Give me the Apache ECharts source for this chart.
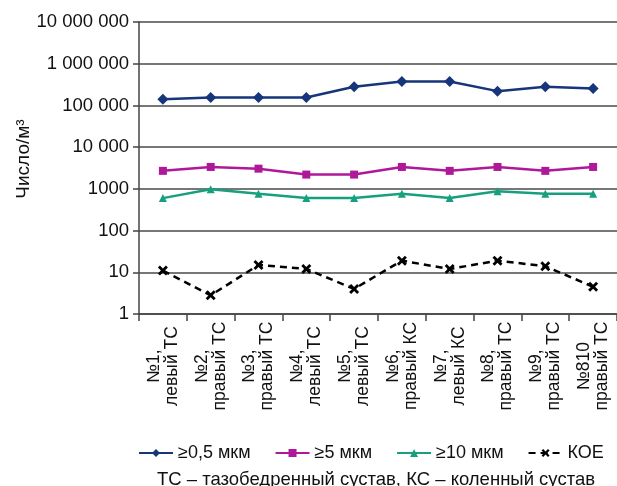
<!DOCTYPE html>
<html>
<head>
<meta charset="utf-8">
<script src="https://cdn.jsdelivr.net/npm/echarts@6/dist/echarts.min.js"></script>
<style>
  html, body { margin: 0; padding: 0; background: #fff; }
  #chart { width: 617px; height: 486px; }
</style>
</head>
<body>
<div id="chart"></div>
<script>
// Particle counts per m³ measured during operations (log scale)
const categories = [
  '№1,\nлевый ТС', '№2,\nправый ТС', '№3,\nправый ТС', '№4,\nлевый ТС', '№5,\nлевый ТС',
  '№6,\nправый КС', '№7,\nлевый КС', '№8,\nправый ТС', '№9,\nправый ТС', '№810\nправый ТС'
];
const seriesNames = ['≥0,5 мкм', '≥5 мкм', '≥10 мкм', 'КОЕ'];
const particles05 = [140000, 155000, 155000, 155000, 280000, 375000, 375000, 220000, 280000, 255000];
const particles5 = [2700, 3350, 3050, 2200, 2200, 3350, 2700, 3350, 2700, 3350];
const particles10 = [600, 980, 760, 600, 600, 760, 600, 880, 760, 760];
const cfu = [11, 2.8, 15, 12, 4, 19, 12, 19, 14, 4.5];
const yTickLabels = ['1', '10', '100', '1000', '10 000', '100 000', '1 000 000', '10 000 000'];
const yTitle = 'Число/м³';
const footnote = 'ТС – тазобедренный сустав, КС – коленный сустав';

const FONT = 'Liberation Sans, Arial, Helvetica, sans-serif';
const crossPath = 'path://M0,2L2,0L5,3L8,0L10,2L7,5L10,8L8,10L5,7L2,10L0,8L3,5Z';

const chart = echarts.init(document.getElementById('chart'), null, { renderer: 'canvas' });

function lineSeries(name, data, color, symbol, size, dashed) {
  return {
    name: name,
    type: 'line',
    data: data,
    symbol: symbol,
    symbolSize: size,
    showSymbol: true,
    animation: false,
    lineStyle: { color: color, width: 2.5, type: dashed ? [7, 5] : 'solid' },
    itemStyle: { color: color, borderWidth: 0 },
    emphasis: { disabled: true }
  };
}

chart.setOption({
  backgroundColor: '#fff',
  animation: false,
  textStyle: { fontFamily: FONT },
  grid: { left: 139, top: 22, bottom: 172, right: -8 },
  xAxis: {
    type: 'category',
    data: categories,
    boundaryGap: true,
    axisLine: { show: true, lineStyle: { color: '#444', width: 1.5 } },
    axisTick: { show: true, length: 7, inside: false, lineStyle: { color: '#444', width: 1.5 } },
    axisLabel: {
      interval: 0,
      rotate: 90,
      align: 'center',
      margin: 52,
      color: '#111',
      fontSize: 17.5,
      lineHeight: 18,
      fontFamily: FONT
    },
    splitLine: { show: false }
  },
  yAxis: {
    type: 'log',
    logBase: 10,
    min: 1,
    max: 10000000,
    axisLine: { show: true, lineStyle: { color: '#444', width: 1.5 } },
    axisTick: { show: true, length: 6, lineStyle: { color: '#444', width: 1.5 } },
    axisLabel: {
      margin: 10,
      color: '#111',
      fontSize: 18.5,
      fontFamily: FONT,
      formatter: function (v) {
        const i = Math.round(Math.log10(v));
        return yTickLabels[i] !== undefined ? yTickLabels[i] : '';
      }
    },
    splitLine: { show: true, lineStyle: { color: '#4a4a4a', width: 1.5 } },
    minorTick: { show: false },
    minorSplitLine: { show: false }
  },
  legend: {
    data: seriesNames,
    left: 133,
    top: 439,
    itemWidth: 34,
    itemHeight: 10,
    itemGap: 24,
    textStyle: { color: '#111', fontSize: 18, fontFamily: FONT },
    selectedMode: false
  },
  graphic: [
    {
      type: 'text',
      x: 24,
      y: 159,
      rotation: Math.PI / 2,
      style: {
        text: yTitle,
        fill: '#111',
        font: '19px ' + FONT,
        textAlign: 'center',
        textVerticalAlign: 'middle'
      }
    },
    {
      type: 'text',
      x: 376,
      y: 480,
      style: {
        text: footnote,
        fill: '#111',
        font: '18.5px ' + FONT,
        textAlign: 'center',
        textVerticalAlign: 'middle'
      }
    }
  ],
  series: [
    lineSeries(seriesNames[0], particles05, '#16357a', 'diamond', 11, false),
    lineSeries(seriesNames[1], particles5, '#b0189a', 'rect', 8, false),
    lineSeries(seriesNames[2], particles10, '#17a07e', 'triangle', 8, false),
    lineSeries(seriesNames[3], cfu, '#000000', crossPath, 10, true)
  ]
});
</script>
</body>
</html>
